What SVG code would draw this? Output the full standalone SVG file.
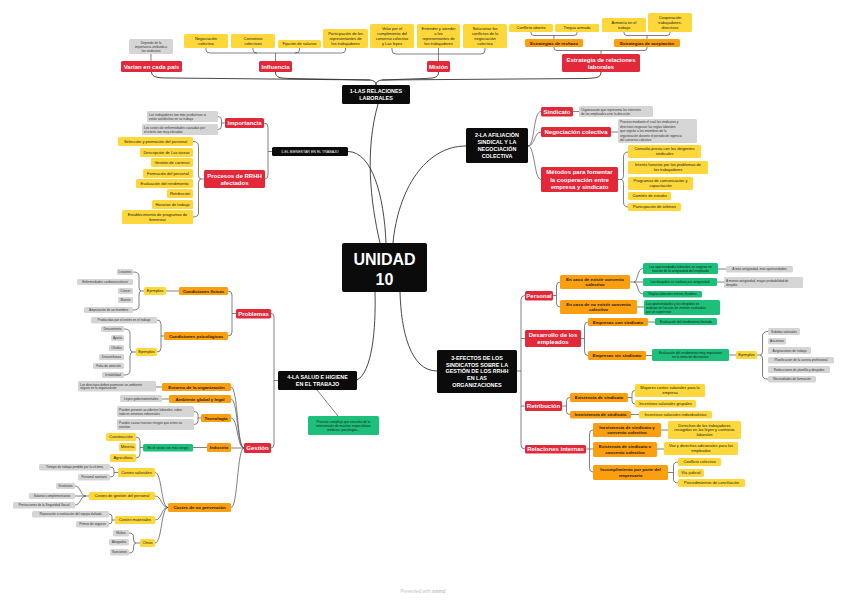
<svg xmlns="http://www.w3.org/2000/svg" width="848" height="600" viewBox="0 0 848 600">
<style>
text{font-family:"Liberation Sans",Arial,sans-serif;text-anchor:middle}
rect{rx:1.5px}
.r{fill:#e3283a}.o{fill:#fb9f0f}.y{fill:#fed83a}.g{fill:#d5d5d5}.gn{fill:#1dc07a}.k{fill:#0b0b0b}
.tr{fill:#fff;font-size:6px;font-weight:bold}
.tk{fill:#fff;font-size:5.4px;font-weight:bold}
.tks{fill:#fff;font-size:3.6px}
.to{fill:#1a1a1a;font-size:4.4px;font-weight:bold}
.ty{fill:#1a1a1a;font-size:4px}
.tg{fill:#333;font-size:3.2px}
.tgl{fill:#333;font-size:3.2px;text-anchor:start}
.tn{fill:#1a1a1a;font-size:3.3px}
.tnl{fill:#1a1a1a;font-size:3.3px;text-anchor:start}
#connectors path{fill:none;stroke:#4a4a4a;stroke-width:0.7}
#connectors path.m{stroke:#333;stroke-width:0.9}
</style>
<rect width="848" height="600" fill="#fff" style="rx:0"/>
<g id="connectors">
<path class="m" d="M151.5,72 C151.5,78 160,78 170,78 L370,80 Q376,80.5 376,85"/>
<path class="m" d="M275.5,72 C275.5,78 280,78 290,78.5 L370,80"/>
<path class="m" d="M438.5,72 C438.5,78 434,78 425,78.5 L382,80 Q376,80.5 376,85"/>
<path class="m" d="M601,72 C601,78 596,78 585,78.5 L382,80"/>
<path d="M151,54 V61"/>
<path d="M206,48 V50 Q206,53 210,53 H275.5 M253,48 V50 Q253,53 257,53 M299.5,48 V50 Q299.5,53 295.5,53 H275.5 M345.5,48 V50 Q345.5,53 341.5,53 H295 M275.5,53 V61"/>
<path d="M392,48 V50 Q392,54 396,54 H481 Q485,54 485,50 V48 M438.5,48 V61"/>
<path d="M531,32 V33 Q531,35.5 534,35.5 H574 Q577,35.5 577,33 V32 M554,35.5 V39"/>
<path d="M624,32 V33 Q624,35.5 627,35.5 H667 Q670,35.5 670,33 V32 M647,35.5 V39"/>
<path d="M554,47 V48 Q554,50.5 557,50.5 H644 Q647,50.5 647,48 V47 M601,50.5 V54"/>
<path class="m" d="M378,104 C365,150 370,200 380,243"/>
<path class="m" d="M348,151.5 C372,152 384,195 386,243"/>
<path class="m" d="M466,146 C425,146 398,190 393,243"/>
<path class="m" d="M357,380 C372,372 376,330 375,292"/>
<path class="m" d="M437,371 C410,371 401,330 400,292"/>
<path d="M528,146 C535,146 533,111.5 541,111.5 M528,146 C535,146 534,132 541,132 M528,146 C535,146 534,179.5 541,179.5"/>
<path d="M573,111.5 H579 M611,132 H618"/>
<path d="M618,179.5 H621 M628,152 Q623.5,152 623.5,157 V174.5 Q623.5,179.5 621,179.5 Q623.5,179.5 623.5,184.5 V202 Q623.5,207 628,207"/>
<path d="M225,123 H221.5 M218,116.5 Q221.5,116.5 221.5,120 V126 Q221.5,129.5 218,129.5"/>
<path d="M264,123 Q268,123 268,127 V175 Q268,179 265,179 M268,151.5 H272"/>
<path d="M193,141.5 Q198.5,141.5 198.5,146 V175 Q198.5,179 201,179 Q198.5,179 198.5,183 V213 Q198.5,217 193,217 M201,179 H204"/>
<path d="M271,313.5 Q274,313.5 274,317 V444 Q274,448 271,448 M274,380.5 H278"/>
<path d="M317,390 L338,416"/>
<path d="M236,313.5 H232 M228,291 Q232,291 232,295 V332 Q232,336 228,336"/>
<path d="M179,291 H166"/>
<path d="M144,291 H141 M133,272 Q139,272 139,276 V287 Q139,291 141,291 Q139,291 139,295 V306 Q139,310 133,310"/>
<path d="M164,336 H161 M157,320 Q161,320 161,324 V348 Q161,352 157,352"/>
<path d="M136,352 H133 M124,329 Q130,329 130,333 V348 Q130,352 133,352 Q130,352 130,356 V371 Q130,375 124,375"/>
<path d="M244,448 C237,448 238,387 231,387 M244,448 C237,448 238,399 231,399 M244,448 C237,448 238,418 231,418 M244,448 H231 M244,448 C237,448 238,507.5 231,507.5"/>
<path d="M162,387 H156 M169,399 H162"/>
<path d="M201,418 H198 M194,411.5 Q198,411.5 198,414.5 V421 Q198,424.5 194,424.5"/>
<path d="M207,447.5 H193 M143,447.5 H140 M136,437 Q140,437 140,441 V454 Q140,458 136,458"/>
<path d="M168,507.5 C161,507.5 162,472.5 155,472.5 M168,507.5 C161,507.5 162,496 155,496 M168,507.5 C161,507.5 162,520 155,520 M168,507.5 C161,507.5 162,543 155,543"/>
<path d="M118,472.5 H114 M110,467 Q114,467 114,470 V474.5 Q114,477 110,477"/>
<path d="M89,496 H86 M75,486 C81,486 80,496 86,496 M75,496 H86 M75,505 C81,505 80,496 86,496"/>
<path d="M115,520 H112 M109,514 Q112,514 112,517 V521 Q112,524 109,524"/>
<path d="M140,543 H136 M129,533 Q133.5,533 133.5,537 V539 Q133.5,543 136,543 Q133.5,543 133.5,547 V549 Q133.5,553 129,553"/>
<path d="M517,371 H521 M525,295.5 Q521,295.5 521,299.5 V445 Q521,449 525,449 M521,338.5 H525 M521,406 H525"/>
<path d="M553,295.5 H556.5 M560,282 Q556.5,282 556.5,286 V303 Q556.5,307 560,307"/>
<path d="M630,282 H634 M643,268.5 C637,268.5 638,282 634,282 M634,282 H643 M643,294 C637,294 638,282 634,282"/>
<path d="M718,269 H726 M717,282 H724 M637,307 H644"/>
<path d="M581,338.5 H584.5 M588,322 Q584.5,322 584.5,326 V351.5 Q584.5,355.5 588,355.5"/>
<path d="M648,322 H655 M646,355.5 H652 M729,355 H736"/>
<path d="M757,355 H760 M768,331.5 Q762.5,331.5 762.5,336 V351 Q762.5,355 760,355 Q762.5,355 762.5,359 V375 Q762.5,379 768,379"/>
<path d="M562,406 H566.5 M570,397.5 Q566.5,397.5 566.5,400.5 V411.5 Q566.5,414.5 570,414.5"/>
<path d="M628,397.5 H632 M635,390.5 Q632,390.5 632,393.5 V401 Q632,404 635,404 M631,414.5 H639"/>
<path d="M586,449 H589.5 M593,430 Q589.5,430 589.5,434 V468 Q589.5,472 593,472 M589.5,449 H593"/>
<path d="M661,430 H668 M657,449 H664 M668,472.5 H673.5 M678,462 Q673.5,462 673.5,466 V479 Q673.5,483 678,483"/>
</g>

<g id="n-depende"><rect class="g" x="129" y="39" width="44" height="15"/><text class="tg" x="151" y="43.5">Depende de la</text><text class="tg" x="151" y="47.6">importancia atribuida a</text><text class="tg" x="151" y="51.8">los sindicatos</text></g>
<g id="n-varian"><rect class="r" x="121" y="61" width="61" height="11"/><text class="tr" x="151.5" y="68.6">Varían en cada país</text></g>
<g id="n-negcol"><rect class="y" x="184" y="34" width="44" height="14"/><text class="ty" x="206" y="39.9">Negociación</text><text class="ty" x="206" y="44.9">colectiva</text></g>
<g id="n-convenios"><rect class="y" x="231" y="34" width="44" height="14"/><text class="ty" x="253" y="39.9">Convenios</text><text class="ty" x="253" y="44.9">colectivos</text></g>
<g id="n-fijacion"><rect class="y" x="278" y="40" width="43" height="8"/><text class="ty" x="299.5" y="45.4">Fijación de salarios</text></g>
<g id="n-participacion"><rect class="y" x="323" y="29" width="45" height="19"/><text class="ty" x="345.5" y="34.9">Participación de los</text><text class="ty" x="345.5" y="39.9">representantes de</text><text class="ty" x="345.5" y="44.9">los trabajadores</text></g>
<g id="n-influencia"><rect class="r" x="259" y="61" width="33" height="11"/><text class="tr" x="275.5" y="68.6">Influencia</text></g>
<g id="n-velar"><rect class="y" x="370" y="24" width="44" height="24"/><text class="ty" x="392" y="29.9">Velar por el</text><text class="ty" x="392" y="34.9">cumplimiento del</text><text class="ty" x="392" y="39.9">convenio colectivo</text><text class="ty" x="392" y="44.9">y Las leyes</text></g>
<g id="n-entender"><rect class="y" x="417" y="24" width="43" height="24"/><text class="ty" x="438.5" y="29.9">Entender y atender</text><text class="ty" x="438.5" y="34.9">a los</text><text class="ty" x="438.5" y="39.9">representantes de</text><text class="ty" x="438.5" y="44.9">los trabajadores</text></g>
<g id="n-solucionar"><rect class="y" x="463" y="24" width="44" height="24"/><text class="ty" x="485" y="29.9">Solucionar los</text><text class="ty" x="485" y="34.9">conflictos de la</text><text class="ty" x="485" y="39.9">negociación</text><text class="ty" x="485" y="44.9">colectiva</text></g>
<g id="n-mision"><rect class="r" x="427" y="61" width="23" height="11"/><text class="tr" x="438.5" y="68.6">Misión</text></g>
<g id="n-conflicto"><rect class="y" x="509" y="24" width="44" height="8"/><text class="ty" x="531" y="29.4">Conflicto abierto</text></g>
<g id="n-tregua"><rect class="y" x="555" y="24" width="44" height="8"/><text class="ty" x="577" y="29.4">Tregua armada</text></g>
<g id="n-armonia"><rect class="y" x="602" y="18" width="44" height="14"/><text class="ty" x="624" y="23.9">Armonía en el</text><text class="ty" x="624" y="28.9">trabajo</text></g>
<g id="n-cooperacion"><rect class="y" x="648" y="13" width="44" height="19"/><text class="ty" x="670" y="18.9">Cooperación</text><text class="ty" x="670" y="23.9">trabajadores-</text><text class="ty" x="670" y="28.9">directivos</text></g>
<g id="n-rechazo"><rect class="o" x="525" y="39" width="58" height="8"/><text class="to" x="554" y="44.5">Estrategias de rechazo</text></g>
<g id="n-aceptacion"><rect class="o" x="614" y="39" width="66" height="8"/><text class="to" x="647" y="44.5">Estrategias de aceptación</text></g>
<g id="n-estrategia"><rect class="r" x="562" y="54" width="78" height="18"/><text class="tr" x="601" y="61.6">Estrategia de relaciones</text><text class="tr" x="601" y="68.6">laborales</text></g>
<g id="n-relaciones"><rect class="k" x="342" y="85" width="68" height="19"/><text class="tk" x="376" y="93.2">1-LAS RELACIONES</text><text class="tk" x="376" y="99.7">LABORALES</text></g>

<g id="n-bienestar"><rect class="k" x="272" y="147" width="76" height="9"/><text class="tks" x="310" y="152.8">5-EL BIENESTAR EN EL TRABAJO</text></g>
<g id="n-importancia"><rect class="r" x="225" y="118" width="39" height="10"/><text class="tr" x="244.5" y="125.1">Importancia</text></g>
<g id="n-productivos"><rect class="g" x="147" y="111" width="71" height="11"/><text class="tgl" x="149" y="115.6">Los trabajadores son más productivos si</text><text class="tgl" x="149" y="119.6">están satisfechos en su trabajo</text></g>
<g id="n-costes-enf"><rect class="g" x="142" y="124" width="76" height="11"/><text class="tgl" x="144" y="128.6">Los costes de enfermedades causadas por</text><text class="tgl" x="144" y="132.6">el estrés son muy elevados</text></g>
<g id="n-procesos"><rect class="r" x="204" y="170" width="61" height="18"/><text class="tr" x="234.5" y="177.6">Procesos de RRHH</text><text class="tr" x="234.5" y="184.6">afectados</text></g>
<g id="n-seleccion"><rect class="y" x="118" y="137" width="75" height="9"/><text class="ty" x="155.5" y="142.9">Selección y promoción del personal</text></g>
<g id="n-descripcion"><rect class="y" x="140" y="148" width="53" height="9"/><text class="ty" x="166.5" y="153.9">Descripción de Las tareas</text></g>
<g id="n-gestion-carreras"><rect class="y" x="151" y="158" width="42" height="9"/><text class="ty" x="172" y="163.9">Gestión de carreras</text></g>
<g id="n-formacion"><rect class="y" x="143" y="169" width="50" height="9"/><text class="ty" x="168" y="174.9">Formación del personal</text></g>
<g id="n-evaluacion"><rect class="y" x="136" y="179" width="57" height="9"/><text class="ty" x="164.5" y="184.9">Evaluación del rendimiento</text></g>
<g id="n-retribucion1"><rect class="y" x="167" y="189" width="26" height="9"/><text class="ty" x="180" y="194.9">Retribución</text></g>
<g id="n-horarios"><rect class="y" x="152" y="200" width="41" height="9"/><text class="ty" x="172.5" y="205.9">Horarios de trabajo</text></g>
<g id="n-establecimiento"><rect class="y" x="122" y="210" width="71" height="14"/><text class="ty" x="157.5" y="215.9">Establecimiento de programas de</text><text class="ty" x="157.5" y="220.9">bienestar</text></g>

<g id="n-afiliacion"><rect class="k" x="466" y="128" width="62" height="35"/><text class="tk" x="497" y="136.9">2-LA AFILIACIÓN</text><text class="tk" x="497" y="143.9">SINDICAL Y LA</text><text class="tk" x="497" y="150.9">NEGOCIACIÓN</text><text class="tk" x="497" y="157.9">COLECTIVA</text></g>
<g id="n-sindicato"><rect class="r" x="541" y="107" width="32" height="9.5"/><text class="tr" x="557" y="113.9">Sindicato</text></g>
<g id="n-organizacion"><rect class="g" x="579" y="106" width="74" height="11"/><text class="tgl" x="581" y="110.6">Organización que representa los intereses</text><text class="tgl" x="581" y="114.6">de los empleados ante la dirección</text></g>
<g id="n-negcol2"><rect class="r" x="541" y="127" width="70" height="10"/><text class="tr" x="576" y="134.1">Negociación colectiva</text></g>
<g id="n-proceso-neg"><rect class="g" x="618" y="119" width="79" height="24"/><text class="tgl" x="620" y="123.4">Proceso mediante el cual los sindicatos y</text><text class="tgl" x="620" y="127.8">directivos negocian las reglas laborales</text><text class="tgl" x="620" y="132.2">que regirán a los miembros de la</text><text class="tgl" x="620" y="136.6">organización durante el periodo de vigencia</text><text class="tgl" x="620" y="141">del convenio colectivo</text></g>
<g id="n-metodos"><rect class="r" x="541" y="167" width="77" height="25"/><text class="tr" x="579.5" y="174.3">Métodos para fomentar</text><text class="tr" x="579.5" y="181.6">la cooperación entre</text><text class="tr" x="579.5" y="188.9">empresa y sindicato</text></g>
<g id="n-consulta"><rect class="y" x="628" y="145" width="73" height="13"/><text class="ty" x="664.5" y="150.4">Consulta previa con los dirigentes</text><text class="ty" x="664.5" y="155.4">sindicales</text></g>
<g id="n-interes"><rect class="y" x="628" y="161" width="80" height="13"/><text class="ty" x="668" y="166.4">Interés honesto por los problemas de</text><text class="ty" x="668" y="171.4">los trabajadores</text></g>
<g id="n-programas"><rect class="y" x="628" y="177" width="65" height="13"/><text class="ty" x="660.5" y="182.4">Programas de comunicación y</text><text class="ty" x="660.5" y="187.4">capacitación</text></g>
<g id="n-comites"><rect class="y" x="628" y="192" width="43" height="8"/><text class="ty" x="649.5" y="197.4">Comités de estudio</text></g>
<g id="n-arbitros"><rect class="y" x="628" y="203" width="53" height="8"/><text class="ty" x="654.5" y="208.4">Participación de árbitros</text></g>

<g id="n-unidad"><rect class="k" x="342" y="243" width="85" height="49" style="rx:2px"/><text x="384.5" y="264.5" style="fill:#fff;font-size:16px;font-weight:bold">UNIDAD</text><text x="384.5" y="284.5" style="fill:#fff;font-size:16px;font-weight:bold">10</text></g>

<g id="n-salud"><rect class="k" x="278" y="371" width="79" height="19"/><text class="tk" x="317.5" y="379.2">4-LA SALUD E HIGIENE</text><text class="tk" x="317.5" y="385.7">EN EL TRABAJO</text></g>
<g id="n-proceso-complejo"><rect class="gn" x="308" y="416" width="71" height="19"/><text class="tn" x="343.5" y="422.5">Proceso complejo que necesita de la</text><text class="tn" x="343.5" y="426.7">intervención de muchos especialistas</text><text class="tn" x="343.5" y="430.9">médicos, psicólogos...</text></g>
<g id="n-problemas"><rect class="r" x="236" y="309" width="35" height="9.5"/><text class="tr" x="253.5" y="315.9">Problemas</text></g>
<g id="n-cond-fisicas"><rect class="o" x="179" y="287" width="49" height="8"/><text class="to" x="203.5" y="292.5">Condiciones físicas</text></g>
<g id="n-ejemplos1"><rect class="y" x="144" y="287" width="22" height="8"/><text class="ty" x="155" y="292.4">Ejemplos</text></g>
<g id="n-lesiones"><rect class="g" x="117" y="269" width="16" height="6"/><text class="tg" x="125" y="273.1">Lesiones</text></g>
<g id="n-enf-card"><rect class="g" x="77" y="279" width="56" height="6"/><text class="tg" x="105" y="283.1">Enfermedades cardiovasculares</text></g>
<g id="n-cancer"><rect class="g" x="118" y="288" width="15" height="6"/><text class="tg" x="125.5" y="292.1">Cáncer</text></g>
<g id="n-muerte"><rect class="g" x="118" y="297" width="15" height="6"/><text class="tg" x="125.5" y="301.1">Muerte</text></g>
<g id="n-amputacion"><rect class="g" x="84" y="307" width="49" height="6"/><text class="tg" x="108.5" y="311.1">Amputación de un miembro</text></g>
<g id="n-cond-psico"><rect class="o" x="164" y="332" width="64" height="8"/><text class="to" x="196" y="337.5">Condiciones psicológicas</text></g>
<g id="n-producidas"><rect class="g" x="91" y="317" width="66" height="6.5"/><text class="tg" x="124" y="321.4">Producidas por el estrés en el trabajo</text></g>
<g id="n-ejemplos2"><rect class="y" x="136" y="348" width="21" height="8"/><text class="ty" x="146.5" y="353.4">Ejemplos</text></g>
<g id="n-descontento"><rect class="g" x="101" y="326" width="23" height="6"/><text class="tg" x="112.5" y="330.1">Descontento</text></g>
<g id="n-apatia"><rect class="g" x="111" y="335" width="13" height="6"/><text class="tg" x="117.5" y="339.1">Apatía</text></g>
<g id="n-olvidos"><rect class="g" x="109" y="345" width="15" height="6"/><text class="tg" x="116.5" y="349.1">Olvidos</text></g>
<g id="n-desconfianza"><rect class="g" x="99" y="354" width="25" height="6"/><text class="tg" x="111.5" y="358.1">Desconfianza</text></g>
<g id="n-falta"><rect class="g" x="93" y="363" width="31" height="6"/><text class="tg" x="108.5" y="367.1">Falta de atención</text></g>
<g id="n-irritabilidad"><rect class="g" x="102" y="372" width="22" height="6"/><text class="tg" x="113" y="376.1">Irritabilidad</text></g>

<g id="n-gestion"><rect class="r" x="244" y="443" width="27" height="10"/><text class="tr" x="257.5" y="450.1">Gestión</text></g>
<g id="n-entorno"><rect class="o" x="162" y="383" width="69" height="8"/><text class="to" x="196.5" y="388.5">Entorno de la organización</text></g>
<g id="n-directivos"><rect class="g" x="78" y="381" width="78" height="10.5"/><text class="tgl" x="80" y="385.5">Los directivos deben promover un ambiente</text><text class="tgl" x="80" y="389.3">seguro en la organización</text></g>
<g id="n-ambiente"><rect class="o" x="169" y="395" width="62" height="8"/><text class="to" x="200" y="400.5">Ambiente global y legal</text></g>
<g id="n-leyes"><rect class="g" x="120" y="395" width="42" height="7"/><text class="tg" x="141" y="399.6">Leyes gubernamentales</text></g>
<g id="n-tecnologia"><rect class="o" x="201" y="414" width="30" height="8"/><text class="to" x="216" y="419.5">Tecnología</text></g>
<g id="n-prevenir"><rect class="g" x="117" y="406" width="77" height="11"/><text class="tgl" x="119" y="410.7">Pueden prevenir accidentes laborales, sobre</text><text class="tgl" x="119" y="414.5">todo en entornos industriales</text></g>
<g id="n-causar"><rect class="g" x="117" y="419" width="77" height="11"/><text class="tgl" x="119" y="423.7">Pueden causar nuevos riesgos que antes no</text><text class="tgl" x="119" y="427.5">existían</text></g>
<g id="n-industria"><rect class="o" x="207" y="443" width="24" height="9"/><text class="to" x="219" y="449">Industria</text></g>
<g id="n-sector"><rect class="gn" x="143" y="444" width="50" height="7.5"/><text class="tn" x="168" y="448.9">Es el sector con más riesgo</text></g>
<g id="n-construccion"><rect class="y" x="106" y="433" width="30" height="8"/><text class="ty" x="121" y="438.4">Construcción</text></g>
<g id="n-mineria"><rect class="y" x="119" y="443" width="17" height="8"/><text class="ty" x="127.5" y="448.4">Minería</text></g>
<g id="n-agricultura"><rect class="y" x="110" y="454" width="26" height="8"/><text class="ty" x="123" y="459.4">Agricultura</text></g>
<g id="n-costes-np"><rect class="o" x="168" y="503" width="63" height="9"/><text class="to" x="199.5" y="509">Costes de no prevención</text></g>
<g id="n-costes-sal"><rect class="y" x="118" y="468" width="37" height="9"/><text class="ty" x="136.5" y="473.9">Costes salariales</text></g>
<g id="n-tiempo"><rect class="g" x="39" y="464" width="71" height="6.5"/><text class="tg" x="74.5" y="468.4">Tiempo de trabajo perdido por la víctima</text></g>
<g id="n-personal-san"><rect class="g" x="78" y="474" width="32" height="6.5"/><text class="tg" x="94" y="478.4">Personal sanitario</text></g>
<g id="n-costes-gest"><rect class="y" x="89" y="492" width="66" height="8"/><text class="ty" x="122" y="497.4">Costes de gestión del personal</text></g>
<g id="n-sustitutos"><rect class="g" x="56" y="483" width="19" height="6"/><text class="tg" x="65.5" y="487.1">Sustitutos</text></g>
<g id="n-salarios-comp"><rect class="g" x="29" y="493" width="46" height="6"/><text class="tg" x="52" y="497.1">Salarios complementarios</text></g>
<g id="n-prestaciones"><rect class="g" x="13" y="502" width="62" height="6.5"/><text class="tg" x="44" y="506.4">Prestaciones de la Seguridad Social</text></g>
<g id="n-costes-mat"><rect class="y" x="115" y="516" width="40" height="8"/><text class="ty" x="135" y="521.4">Costes materiales</text></g>
<g id="n-reparacion"><rect class="g" x="32" y="511" width="77" height="6.5"/><text class="tg" x="70.5" y="515.4">Reparación o sustitución del equipo dañado</text></g>
<g id="n-primas"><rect class="g" x="76" y="521" width="33" height="6.5"/><text class="tg" x="92.5" y="525.4">Primas de seguros</text></g>
<g id="n-otros"><rect class="y" x="140" y="539" width="15" height="8"/><text class="ty" x="147.5" y="544.4">Otros</text></g>
<g id="n-multas"><rect class="g" x="113" y="530" width="16" height="6.5"/><text class="tg" x="121" y="534.4">Multas</text></g>
<g id="n-abogados"><rect class="g" x="109" y="539" width="20" height="6.5"/><text class="tg" x="119" y="543.4">Abogados</text></g>
<g id="n-sanciones"><rect class="g" x="110" y="549" width="19" height="6.5"/><text class="tg" x="119.5" y="553.4">Sanciones</text></g>

<g id="n-efectos"><rect class="k" x="437" y="350" width="80" height="43"/><text class="tk" x="477" y="359.7">3-EFECTOS DE LOS</text><text class="tk" x="477" y="366.5">SINDICATOS SOBRE LA</text><text class="tk" x="477" y="373.3">GESTIÓN DE LOS RRHH</text><text class="tk" x="477" y="380.1">EN LAS</text><text class="tk" x="477" y="386.9">ORGANIZACIONES</text></g>
<g id="n-personal"><rect class="r" x="525" y="291" width="28" height="9.5"/><text class="tr" x="539" y="297.9">Personal</text></g>
<g id="n-existir"><rect class="o" x="560" y="275" width="70" height="14"/><text class="to" x="595" y="280.8">En caso de existir convenio</text><text class="to" x="595" y="286.3">colectivo</text></g>
<g id="n-noexistir"><rect class="o" x="560" y="300" width="77" height="14"/><text class="to" x="598.5" y="305.8">En caso de no existir convenio</text><text class="to" x="598.5" y="311.3">colectivo</text></g>
<g id="n-oportunidades"><rect class="gn" x="643" y="263" width="75" height="11"/><text class="tn" x="680.5" y="267.7">Las oportunidades laborales se asignan en</text><text class="tn" x="680.5" y="271.7">función de la antigüedad del empleado</text></g>
<g id="n-mas-ant"><rect class="g" x="726" y="266" width="67" height="6.5"/><text class="tg" x="759.5" y="270.4">A más antigüedad, más oportunidades</text></g>
<g id="n-despidos"><rect class="gn" x="643" y="278" width="74" height="8"/><text class="tn" x="680" y="283.2">Los despidos se realizan por antigüedad</text></g>
<g id="n-menos-ant"><rect class="g" x="724" y="277" width="79" height="11"/><text class="tgl" x="726" y="281.7">A menos antigüedad, mayor probabilidad de</text><text class="tgl" x="726" y="285.7">despido</text></g>
<g id="n-reglas"><rect class="gn" x="643" y="291" width="59" height="6.5"/><text class="tn" x="672.5" y="295.4">Reglas laborales menos flexibles</text></g>
<g id="n-meritos"><rect class="gn" x="644" y="300" width="76" height="15"/><text class="tnl" x="646" y="304.7">Las oportunidades y los despidos se</text><text class="tnl" x="646" y="308.7">realizan en función de méritos evaluados</text><text class="tnl" x="646" y="312.7">por un supervisor</text></g>
<g id="n-desarrollo"><rect class="r" x="525" y="330" width="56" height="17"/><text class="tr" x="553" y="337.1">Desarrollo de los</text><text class="tr" x="553" y="344.1">empleados</text></g>
<g id="n-con-sind"><rect class="o" x="588" y="318" width="60" height="8"/><text class="to" x="618" y="323.5">Empresas con sindicato</text></g>
<g id="n-eval-lim"><rect class="gn" x="655" y="318" width="62" height="7"/><text class="tn" x="686" y="322.7">Evaluación del rendimiento limitada</text></g>
<g id="n-sin-sind"><rect class="o" x="588" y="351" width="58" height="9"/><text class="to" x="617" y="357">Empresas sin sindicato</text></g>
<g id="n-eval-imp"><rect class="gn" x="652" y="349" width="77" height="12"/><text class="tn" x="690.5" y="354.2">Evaluación del rendimiento muy importante</text><text class="tn" x="690.5" y="358.2">en la toma de decisiones</text></g>
<g id="n-ejemplos3"><rect class="y" x="736" y="351" width="21" height="8"/><text class="ty" x="746.5" y="356.4">Ejemplos</text></g>
<g id="n-subidas"><rect class="g" x="768" y="328" width="32" height="7"/><text class="tg" x="784" y="332.6">Subidas salariales</text></g>
<g id="n-ascensos"><rect class="g" x="768" y="338" width="18" height="6.5"/><text class="tg" x="777" y="342.4">Ascensos</text></g>
<g id="n-asignaciones"><rect class="g" x="768" y="347" width="43" height="7"/><text class="tg" x="789.5" y="351.6">Asignaciones de trabajo</text></g>
<g id="n-planificacion"><rect class="g" x="768" y="357" width="66" height="6.5"/><text class="tg" x="801" y="361.4">Planificación de la carrera profesional</text></g>
<g id="n-reducciones"><rect class="g" x="768" y="366" width="62" height="7"/><text class="tg" x="799" y="370.6">Reducciones de plantilla y despidos</text></g>
<g id="n-necesidades"><rect class="g" x="768" y="376" width="48" height="6.5"/><text class="tg" x="792" y="380.4">Necesidades de formación</text></g>
<g id="n-retribucion2"><rect class="r" x="525" y="401" width="37" height="10"/><text class="tr" x="543.5" y="408.1">Retribución</text></g>
<g id="n-exist-sind"><rect class="o" x="570" y="393" width="58" height="9"/><text class="to" x="599" y="399">Existencia de sindicato</text></g>
<g id="n-mayores"><rect class="y" x="635" y="384" width="70" height="13"/><text class="ty" x="670" y="389.4">Mayores costes salariales para la</text><text class="ty" x="670" y="394.4">empresa</text></g>
<g id="n-incent-grup"><rect class="y" x="635" y="400" width="61" height="7.5"/><text class="ty" x="665.5" y="405.1">Incentivos salariales grupales</text></g>
<g id="n-inex-sind"><rect class="o" x="570" y="411" width="61" height="7.5"/><text class="to" x="600.5" y="416.3">Inexistencia de sindicato</text></g>
<g id="n-incent-ind"><rect class="y" x="639" y="411" width="73" height="7.5"/><text class="ty" x="675.5" y="416.1">Incentivos salariales individualistas</text></g>
<g id="n-relint"><rect class="r" x="525" y="445" width="61" height="8.5"/><text class="tr" x="555.5" y="451.4">Relaciones internas</text></g>
<g id="n-inex-sc"><rect class="o" x="593" y="423" width="68" height="14"/><text class="to" x="627" y="428.8">Inexistencia de sindicato y</text><text class="to" x="627" y="434.3">convenio colectivo</text></g>
<g id="n-derechos"><rect class="y" x="668" y="421" width="73" height="18"/><text class="ty" x="704.5" y="426.6">Derechos de los trabajadores</text><text class="ty" x="704.5" y="431.4">recogidos en las leyes y contratos</text><text class="ty" x="704.5" y="436.2">laborales</text></g>
<g id="n-exist-sc"><rect class="o" x="593" y="442" width="64" height="15"/><text class="to" x="625" y="448.3">Existencia de sindicato o</text><text class="to" x="625" y="453.8">convenio colectivo</text></g>
<g id="n-voz"><rect class="y" x="664" y="442" width="74" height="13"/><text class="ty" x="701" y="447.4">Voz y derechos adicionales para los</text><text class="ty" x="701" y="452.4">empleados</text></g>
<g id="n-incumplimiento"><rect class="o" x="593" y="465" width="75" height="15"/><text class="to" x="630.5" y="471.3">Incumplimiento por parte del</text><text class="to" x="630.5" y="476.8">empresario</text></g>
<g id="n-conflicto-col"><rect class="y" x="678" y="458" width="43" height="8"/><text class="ty" x="699.5" y="463.4">Conflicto colectivo</text></g>
<g id="n-via"><rect class="y" x="678" y="469" width="26" height="8"/><text class="ty" x="691" y="474.4">Vía judicial</text></g>
<g id="n-procedimientos"><rect class="y" x="678" y="479" width="67" height="8"/><text class="ty" x="711.5" y="484.4">Procedimientos de conciliación</text></g>

<text x="423" y="593" style="fill:#c4c4c4;font-size:4.6px">Presented with <tspan style="font-weight:bold">xmind</tspan></text>
</svg>
